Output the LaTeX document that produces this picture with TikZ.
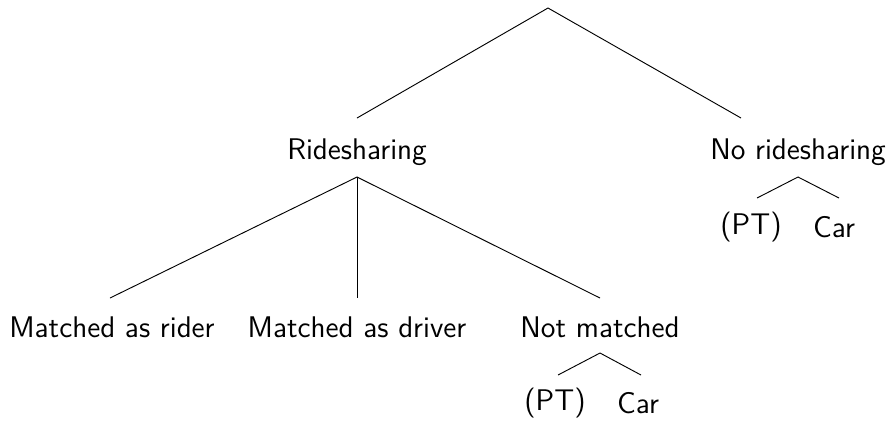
\documentclass[tikz,border=0pt]{standalone}
\begin{document}
\begin{tikzpicture}[x=0.375pt,y=-0.375pt,
  lbl/.style={font=\sffamily\fontsize{11.2}{13}\selectfont, inner sep=0pt, anchor=center},
  edge/.style={draw=black, line width=0.35pt}]
\useasboundingbox (0,0) rectangle (890,421);
% coordinates
\coordinate (top) at (548,8);
\coordinate (rsTop) at (357,118);
\coordinate (nrTop) at (741,118);
\coordinate (rsBot) at (357,177);
\coordinate (mrTop) at (110,298);
\coordinate (mdTop) at (357,298);
\coordinate (nmTop) at (600,298);
\coordinate (nrBot) at (798,177);
\coordinate (nrPT) at (757,198);
\coordinate (nrCar) at (839,198);
\coordinate (nmBot) at (600,353);
\coordinate (nmPT) at (558,375);
\coordinate (nmCar) at (641,375);
% labels
\node[lbl] (rs) at (357,152) {Ridesharing};
\node[lbl] (nr) at (798,152) {No ridesharing};
\node[lbl] (mr) at (112,327) {Matched as rider};
\node[lbl] (md) at (357,327) {Matched as driver};
\node[lbl] (nm) at (600,327) {Not matched};
\node[lbl] (pt1) at (751,227) {(PT)};
\node[lbl] (car1) at (834,227) {Car};
\node[lbl] (pt2) at (555,403) {(PT)};
\node[lbl] (car2) at (638,403) {Car};
% edges
\draw[edge] (rsTop) -- (top) -- (nrTop);
\draw[edge] (mrTop) -- (rsBot) -- (nmTop);
\draw[edge] (rsBot) -- (mdTop);
\draw[edge] (nrPT) -- (nrBot) -- (nrCar);
\draw[edge] (nmPT) -- (nmBot) -- (nmCar);
\end{tikzpicture}
\end{document}
